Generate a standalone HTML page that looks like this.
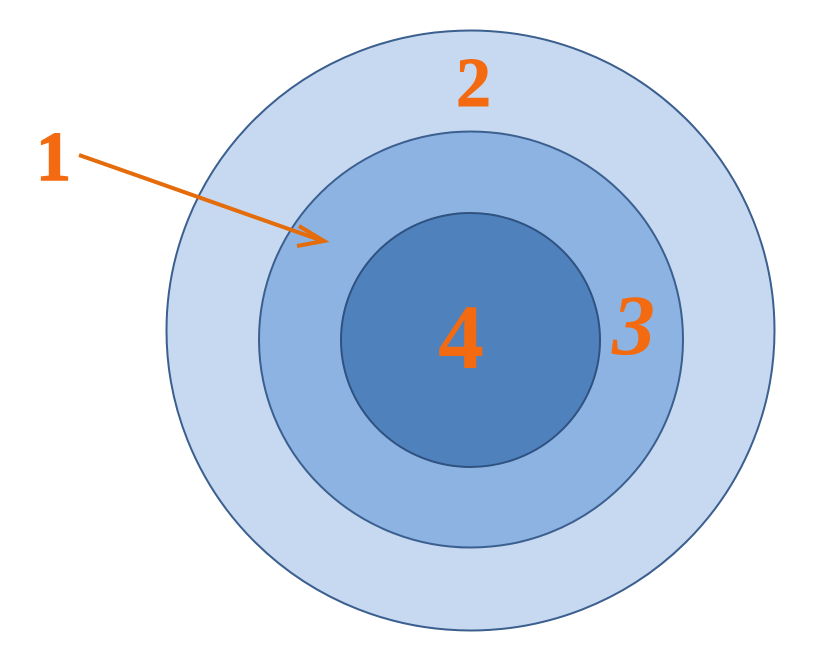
<!DOCTYPE html>
<html><head><meta charset="utf-8"><style>html,body{margin:0;padding:0;background:#fff;}svg{display:block}</style></head>
<body>
<svg width="825" height="651" viewBox="0 0 825 651" xmlns="http://www.w3.org/2000/svg">
<ellipse cx="470.5" cy="330.5" rx="304" ry="300" fill="#c6d9f0" stroke="#3b5f8e" stroke-width="2"/>
<ellipse cx="471" cy="339.5" rx="212" ry="208" fill="#8db3e2" stroke="#3b5f8e" stroke-width="2"/>
<ellipse cx="470.5" cy="340" rx="129.5" ry="127" fill="#4f81bd" stroke="#2f5280" stroke-width="2"/>
<line x1="79" y1="155" x2="320" y2="240" stroke="#e46c0a" stroke-width="4"/>
<polyline points="299,226 324,241 297,246" fill="none" stroke="#e46c0a" stroke-width="4"/>
<g font-family="Liberation Serif, serif" font-weight="bold" fill="#f36a10">
<text x="36" y="180" font-size="70" stroke="#f36a10" stroke-width="1.5">1</text>
<text x="456" y="106" font-size="70" stroke="#f36a10" stroke-width="1">2</text>
<text x="612" y="354" font-size="86" font-style="italic">3</text>
<text x="438" y="368" font-size="92">4</text>
</g>
</svg>
</body></html>
